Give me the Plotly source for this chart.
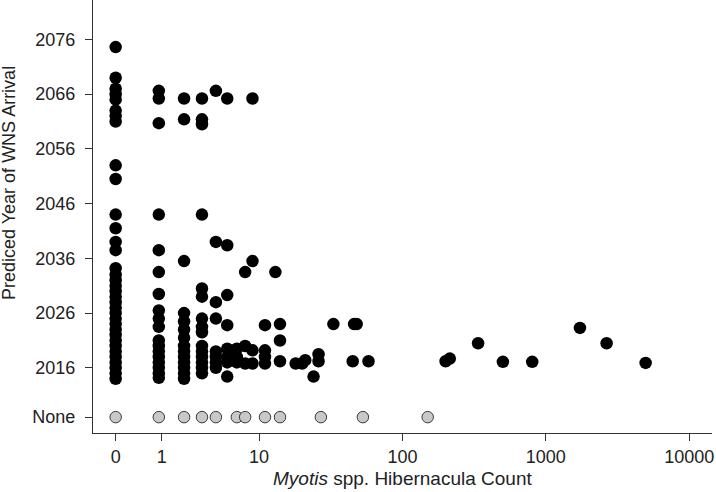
import numpy as np
import plotly.graph_objects as go

# Hibernacula counts (x) and predicted year of WNS arrival (y) for sites with a prediction
counts_black = (
    [0] * 14 + [0] * 21 +
    [1] * 18 + [2] * 14 + [3] * 15 + [4] * 8 + [5] * 8 + [6] * 3 + [7] * 3 + [8] * 4 + [10] * 4 +
    [12, 13, 13, 13, 17, 19, 20, 23, 25, 25, 32, 44, 45, 47, 57, 199, 213, 336, 501, 803, 1729, 2654, 4967]
)
years_black = (
    [2074.6, 2069, 2067, 2066, 2065, 2063, 2062, 2061, 2053, 2050.5, 2044, 2041.5, 2039, 2037.5] +
    [2014, 2015, 2016, 2017, 2018, 2019, 2020, 2021, 2022, 2023, 2024, 2025, 2026, 2027, 2028,
     2029, 2030, 2031, 2032, 2033, 2034.2] +
    [2066.6, 2065.2, 2060.7, 2044, 2037.5, 2033.5, 2029.5, 2026.5, 2025, 2023.5, 2021, 2020,
     2019, 2018, 2017, 2016, 2015, 2014.2] +
    [2065.2, 2061.4, 2035.5, 2026, 2024.5, 2023, 2021.5, 2020, 2019, 2018, 2017, 2016, 2015, 2014] +
    [2065.2, 2061.4, 2060.5, 2044, 2030.5, 2029, 2025, 2023.5, 2022.5, 2020, 2019, 2018, 2017, 2016, 2015] +
    [2066.6, 2039, 2028, 2025, 2019, 2018, 2017, 2016] +
    [2065.2, 2038.4, 2029.3, 2023.8, 2019.5, 2018, 2017, 2014.4] +
    [2019.5, 2018, 2017] +
    [2033.5, 2020, 2016.8] +
    [2065.2, 2035.5, 2019.2, 2016.8] +
    [2023.8, 2019.2, 2018, 2016.8] +
    [2033.5, 2024, 2021, 2017.2, 2016.8, 2016.8, 2017.4, 2014.4, 2018.5, 2017.2, 2024, 2017.2,
     2024, 2024, 2017.2, 2017.2, 2017.7, 2020.5, 2017.1, 2017.1, 2023.3, 2020.5, 2016.9]
)

# Sites with no predicted arrival ("None")
counts_none = [0, 1, 2, 3, 4, 6, 7, 10, 13, 26, 52, 149]
NONE_Y = 2007

x_tick_labels = ["0", "1", "10", "100", "1000", "10000"]
x_tick_pos = [0, 0.321, 1, 2, 3, 4]
y_tick_vals = [NONE_Y, 2016, 2026, 2036, 2046, 2056, 2066, 2076]
y_tick_text = ["None", "2016", "2026", "2036", "2046", "2056", "2066", "2076"]


def tx(c):
    return np.log10(np.asarray(c, dtype=float) + 1)


FONT = "Liberation Sans, Arial, sans-serif"

fig = go.Figure()
fig.add_trace(go.Scatter(
    x=tx(counts_black), y=years_black, mode="markers",
    marker=dict(size=12.5, color="black", line=dict(width=0)),
    showlegend=False, hoverinfo="x+y"))
fig.add_trace(go.Scatter(
    x=tx(counts_none), y=[NONE_Y] * len(counts_none), mode="markers",
    marker=dict(size=11.5, color="#c8c8c8", line=dict(width=1, color="#3a3a3a")),
    showlegend=False))

axis_common = dict(
    showline=True, linecolor="#333333", linewidth=1.2, mirror=False,
    showgrid=False, zeroline=False, ticks="outside", ticklen=7,
    tickcolor="#333333", tickwidth=1,
    tickfont=dict(family=FONT, size=18, color="#222222"),
)

fig.update_layout(
    width=716, height=492,
    margin=dict(l=93, r=4, t=0, b=59),
    paper_bgcolor="white", plot_bgcolor="white",
    xaxis=dict(range=[-0.158, 4.159], tickvals=x_tick_pos, ticktext=x_tick_labels,
               ticklabelstandoff=0, **axis_common),
    yaxis=dict(range=[2004.1, 2083.2], tickvals=y_tick_vals, ticktext=y_tick_text,
               ticklabelstandoff=6, **axis_common),
    annotations=[
        dict(text="<i>Myotis</i> spp. Hibernacula Count", xref="paper", yref="paper",
             x=0.5, y=-0.104, xanchor="center", yanchor="middle", showarrow=False,
             font=dict(family=FONT, size=19, color="#222222")),
        dict(text="Prediced Year of WNS Arrival", xref="paper", yref="paper",
             x=-0.136, y=0.577, xanchor="center", yanchor="middle", textangle=-90,
             showarrow=False,
             font=dict(family=FONT, size=18, color="#222222")),
    ],
)

fig.write_html("out.html", config={"displayModeBar": False},
               post_script="document.body.style.margin='0';")
